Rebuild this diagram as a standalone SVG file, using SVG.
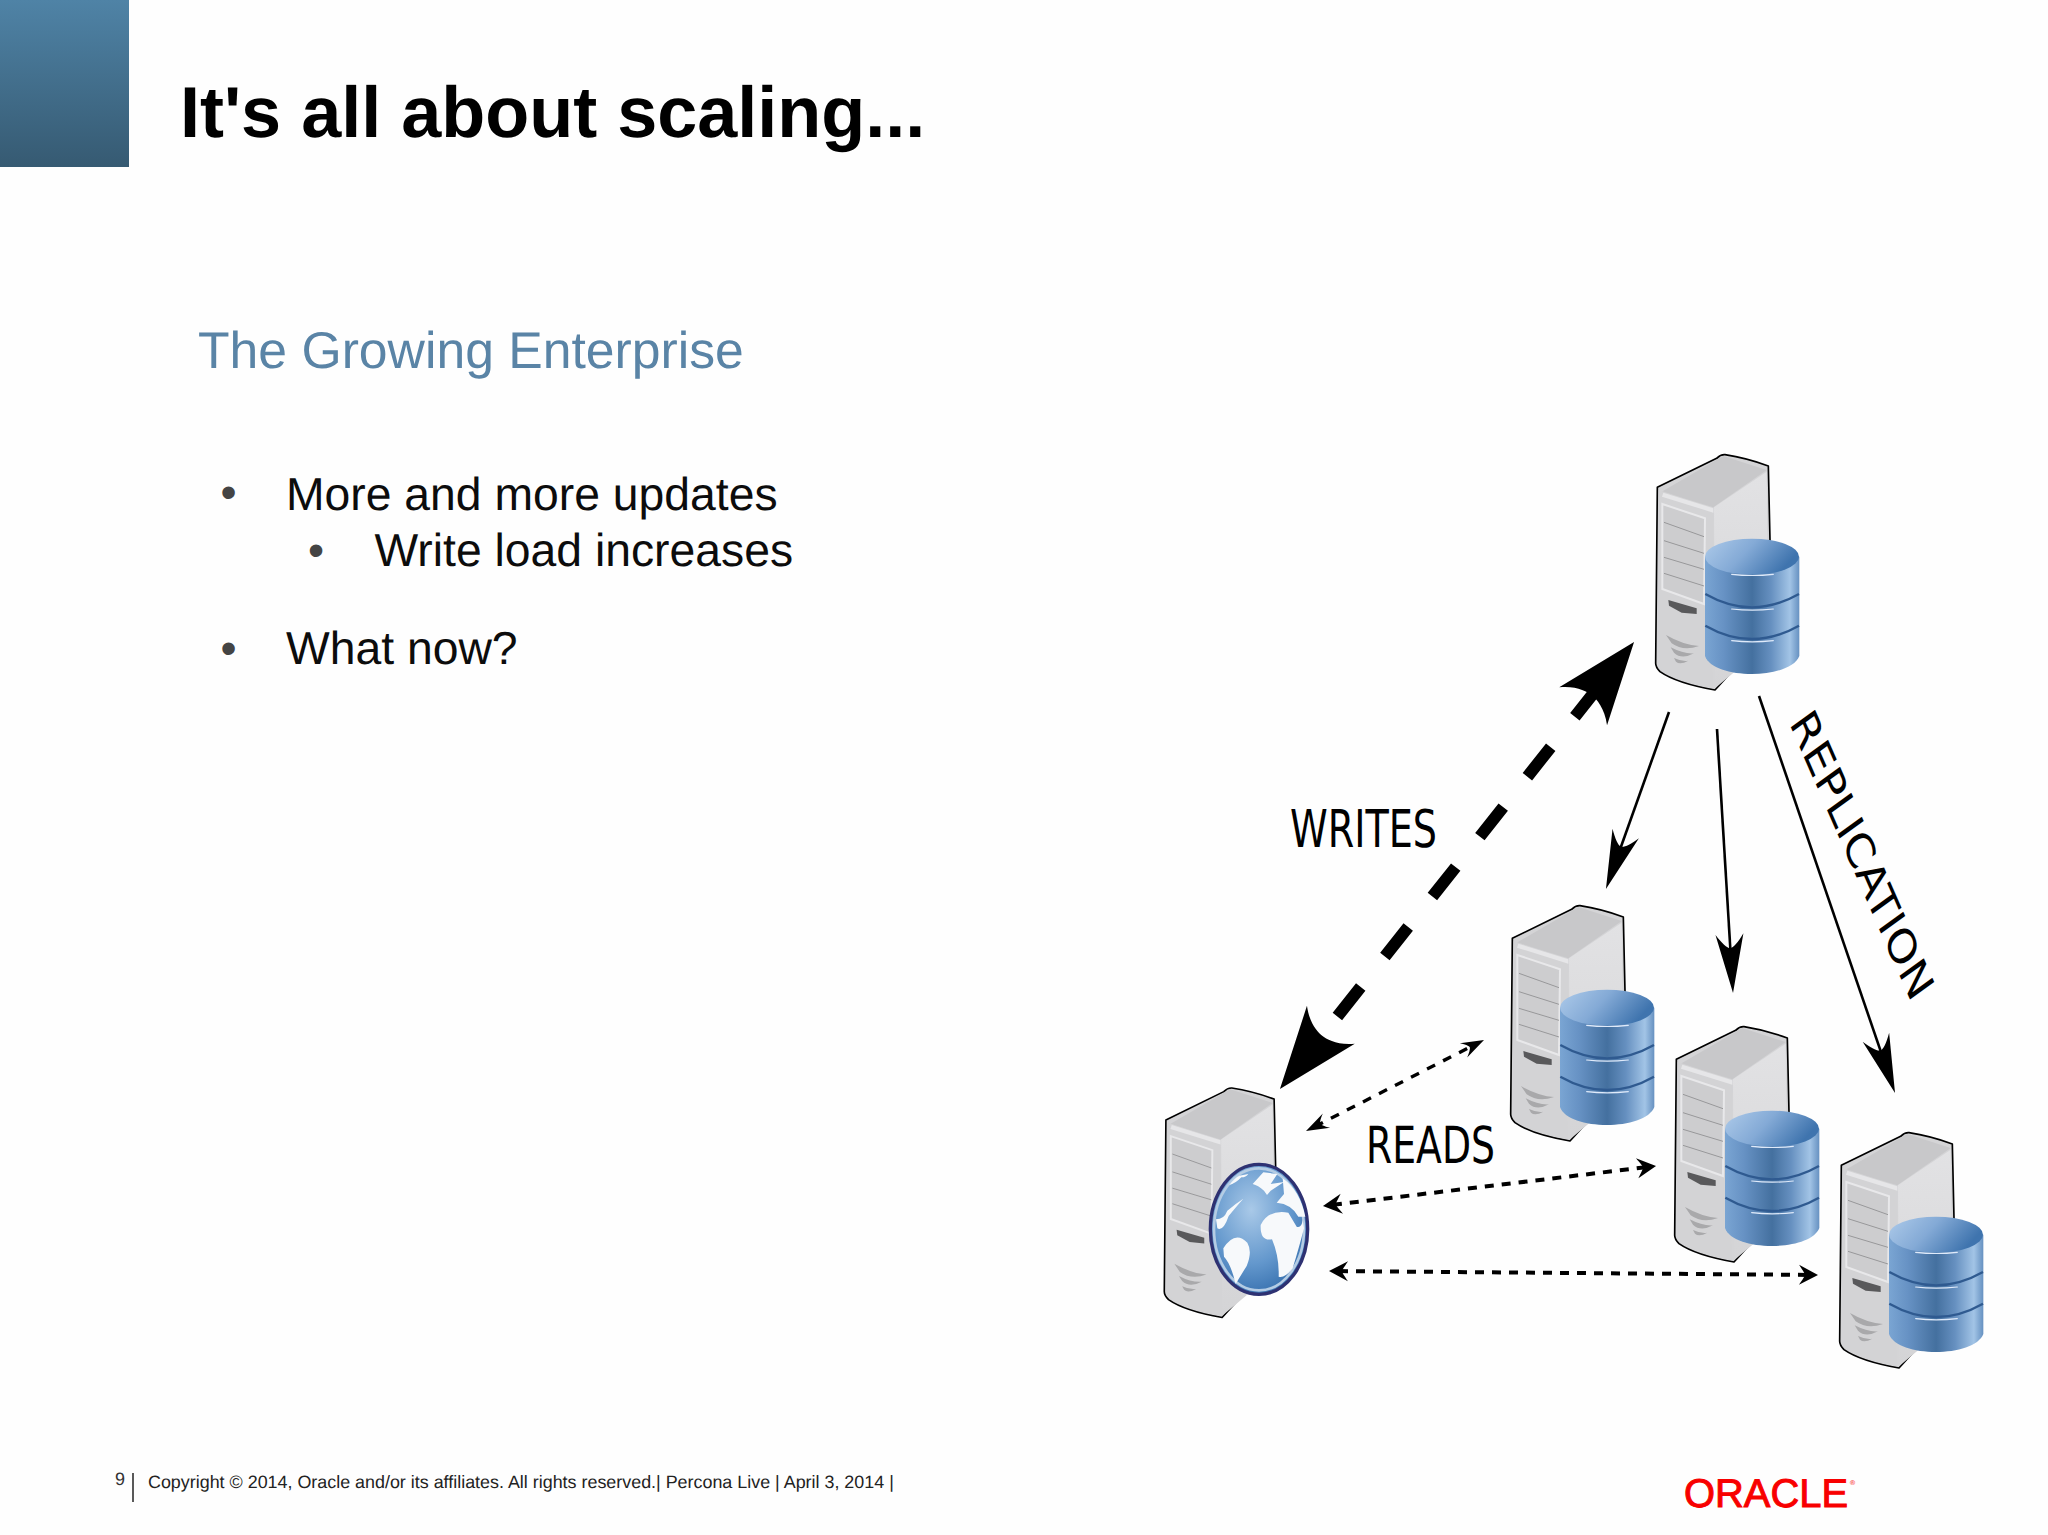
<svg xmlns="http://www.w3.org/2000/svg" width="2048" height="1535" viewBox="0 0 2048 1535">
<style>
text{text-rendering:geometricPrecision}
.s{font-family:"Liberation Sans",Arial,sans-serif}
.d{font-family:"DejaVu Sans",sans-serif;fill:#000}
.body{font-size:46.3px;fill:#0c0c0c}
.bul{font-size:46px;fill:#444}
.big{fill:none;stroke:#000;stroke-width:12;stroke-dasharray:37.6 38.9;stroke-dashoffset:44;marker-start:url(#headBig);marker-end:url(#headBig)}
.thin{fill:none;stroke:#000;stroke-width:2.6;marker-end:url(#headThin)}
.dot{fill:none;stroke:#000;stroke-width:4;stroke-dasharray:9 8;marker-start:url(#headDot);marker-end:url(#headDot)}
.dot1{fill:none;stroke:#000;stroke-width:3.4;stroke-dasharray:9 9;marker-start:url(#headDot1);marker-end:url(#headDot1)}
.slot{stroke:#98989a;stroke-width:3;fill:none}
.sep{fill:none;stroke:#2f5a90;stroke-width:7}
.hl{fill:none;stroke:#dfeafa;stroke-width:3.5;stroke-linecap:round}
.land{fill:#f7f9fb}
</style>
<defs>
<linearGradient id="corner" x1="0" y1="0" x2="0" y2="1"><stop offset="0" stop-color="#4f83a6"/><stop offset="1" stop-color="#365a72"/></linearGradient>
<linearGradient id="dbBody" x1="0" y1="0" x2="1" y2="0"><stop offset="0" stop-color="#7aa5d3"/><stop offset=".2" stop-color="#6792c4"/><stop offset=".5" stop-color="#44709f"/><stop offset=".7" stop-color="#6690c0"/><stop offset=".9" stop-color="#a2c4e6"/><stop offset="1" stop-color="#6691c1"/></linearGradient>
<linearGradient id="dbTop" x1="0" y1="0" x2="1" y2=".35"><stop offset="0" stop-color="#aecbea"/><stop offset=".5" stop-color="#84aad6"/><stop offset="1" stop-color="#3f74ae"/></linearGradient>
<linearGradient id="side" x1="0" y1="0" x2="0" y2="1"><stop offset="0" stop-color="#e2e2e4"/><stop offset="1" stop-color="#d4d4d6"/></linearGradient>
<radialGradient id="sea" cx=".42" cy=".35" r=".75"><stop offset="0" stop-color="#a9c9e8"/><stop offset=".55" stop-color="#6498cd"/><stop offset="1" stop-color="#2a65a6"/></radialGradient>
<marker id="headBig" viewBox="-85 -32 86 64" markerUnits="userSpaceOnUse" markerWidth="86" markerHeight="64" refX="-60" refY="0" orient="auto-start-reverse"><path d="M0,0 L-82,-30.5 C-70,-18 -68,-6 -68,0 C-68,6 -70,18 -82,30.5 Z"/></marker>
<marker id="headThin" viewBox="-62 -16 63 32" markerUnits="userSpaceOnUse" markerWidth="63" markerHeight="32" refX="-30" refY="0" orient="auto"><path d="M0,0 L-59,-14 C-50,-8 -45,-3 -45,0 C-45,3 -50,8 -59,14 Z"/></marker>
<marker id="headDot" viewBox="-21 -11 22 22" markerUnits="userSpaceOnUse" markerWidth="22" markerHeight="22" refX="-10" refY="0" orient="auto-start-reverse"><path d="M0,0 L-19,-10 C-15,-4 -13,-1 -13,0 C-13,1 -15,4 -19,10 Z"/></marker>
<marker id="headDot1" viewBox="-25 -10 26 20" markerUnits="userSpaceOnUse" markerWidth="26" markerHeight="20" refX="-10" refY="0" orient="auto-start-reverse"><path d="M0,0 L-23,-8 C-18,-4 -16,-1 -16,0 C-16,1 -18,4 -23,8 Z"/></marker>
<g id="srv" transform="scale(.33333)">
<path d="M172,172 L350,85 Q362,73 375,74 Q440,84 505,108 L510,330 L510,640 L395,725 L345,780 Q230,760 180,725 Q167,712 167,700 Z" fill="#d4d4d6" stroke="#000" stroke-width="5" stroke-linejoin="round"/>
<path d="M185,185 L370,78 L500,120 L340,232 Z" fill="#c8c8ca"/>
<path d="M342,232 L500,125 L506,640 L345,775 Z" fill="url(#side)"/>
<path d="M176,180 L340,235 L338,775 Q230,755 176,715 Z" fill="#d3d3d5"/>
<path d="M190,188 L340,235 L340,248 L186,200 Z" fill="#e6e6e8"/>
<path d="M187,222 L315,265 L312,522 L187,477 Z" fill="#cdcdcf" stroke="#e8e8ea" stroke-width="6"/>
<path class="slot" d="M192,277 L312,320 M192,332 L312,370 M192,382 L312,418 M192,430 L312,468"/>
<path d="M205,510 L290,535 L290,552 L245,548 L207,527 Z" fill="#59595b"/>
<path d="M198,615 Q250,645 297,648 Q250,665 215,640 Z M212,652 Q250,672 282,670 Q245,690 222,668 Z M222,684 Q245,695 265,692 Q240,706 228,695 Z" fill="#a9a9ab"/>
</g>
<g id="db" transform="scale(.33333)">
<path d="M315,380 L315,678 C340,750 570,750 598,678 L598,380 Z" fill="url(#dbBody)"/>
<ellipse cx="456" cy="380" rx="141" ry="54" fill="url(#dbTop)"/>
<path class="hl" d="M395,433 Q456,440 520,433"/>
<path class="sep" d="M316,492 Q456,572 597,492"/>
<path class="hl" d="M395,537 Q456,544 520,537"/>
<path class="sep" d="M316,587 Q456,667 597,587"/>
<path class="hl" d="M395,632 Q456,639 520,632"/>
</g>
</defs>
<rect width="2048" height="1535" fill="#fefefe"/>
<rect id="corner-block" width="129" height="167" fill="url(#corner)"/>
<g id="title"><text class="s" x="180" y="137" font-size="72" font-weight="700" fill="#000">It's all about scaling...</text></g>
<g id="content">
<text class="s" x="198" y="368" font-size="51.7" fill="#5a84a6">The Growing Enterprise</text>
<text class="s bul" x="220.5" y="508">•</text>
<text class="s body" x="286" y="510">More and more updates</text>
<text class="s bul" x="308" y="566">•</text>
<text class="s body" x="374.5" y="566">Write load increases</text>
<text class="s bul" x="220.5" y="664">•</text>
<text class="s body" x="286" y="664">What now?</text>
</g>
<g id="connectors">
<path class="big" d="M1317.2,1042 L1596.8,689"/>
<path class="thin" d="M1669,712 L1616,860.8"/>
<path class="thin" d="M1717,729 L1731.2,963"/>
<path class="thin" d="M1759,696 L1885.3,1064.6"/>
<path class="dot1" d="M1314.9,1126.5 L1475.1,1044.5"/>
<path class="dot" d="M1332.9,1204.8 L1646.1,1167.2"/>
<path class="dot" d="M1339,1271.1 L1808,1274.9"/>
</g>
<g id="server-master"><use href="#srv" x="1600" y="430"/><use href="#db" x="1600" y="430"/></g>
<g id="server-replica-1"><use href="#srv" x="1455" y="881"/><use href="#db" x="1455" y="881"/></g>
<g id="server-replica-2"><use href="#srv" x="1619" y="1002"/><use href="#db" x="1620" y="1002"/></g>
<g id="server-replica-3"><use href="#srv" x="1784" y="1108"/><use href="#db" x="1784" y="1108"/></g>
<g id="server-web">
<use href="#srv" transform="translate(1110,1064) scale(.975)"/>
<g transform="translate(1140,1060) scale(.33333)">
<ellipse cx="357" cy="508" rx="146" ry="195" fill="url(#sea)" stroke="#2e3172" stroke-width="10"/>
<ellipse cx="357" cy="508" rx="135" ry="183" fill="none" stroke="#b4cce4" stroke-width="8"/>
<path class="land" d="M362,495 Q385,448 445,458 L470,500 Q485,505 488,480 L492,505 Q478,560 458,625 Q435,655 416,650 Q418,590 396,538 Q360,545 362,495 Z"/>
<path class="land" d="M250,565 Q285,510 322,548 Q338,575 320,618 Q300,650 287,672 Q272,610 252,590 Z"/>
<path class="land" d="M228,478 Q252,478 262,452 Q285,432 310,416 Q292,436 266,468 Q250,515 232,505 Z"/>
<path class="land" d="M268,375 Q285,352 298,347 L325,342 Q318,352 304,352 Q285,372 268,375 Z"/>
<path class="land" d="M338,372 L370,337 L412,342 L392,372 L432,366 L392,392 L381,405 L372,392 Q354,376 338,372 Z"/>
<path class="land" d="M428,355 Q480,392 496,470 L475,470 Q455,432 410,428 L432,402 Z"/>
</g>
</g>
<g id="labels">
<text class="d" x="1290" y="847" font-size="52" textLength="147" lengthAdjust="spacingAndGlyphs">WRITES</text>
<text class="d" x="1366" y="1163" font-size="51" textLength="129" lengthAdjust="spacingAndGlyphs">READS</text>
<text class="d" font-size="40" transform="matrix(.47 1.075 -.83 .6 1789 723)">REPLICATION</text>
</g>
<g id="footer">
<text class="s" x="115" y="1485" font-size="18" fill="#333">9</text>
<line x1="133" y1="1473" x2="133" y2="1502" stroke="#222" stroke-width="1.5"/>
<text class="s" x="148" y="1488" font-size="17.9" fill="#222">Copyright © 2014, Oracle and/or its affiliates. All rights reserved.| Percona Live | April 3, 2014 |</text>
<text class="s" x="1684" y="1507" font-size="40" fill="#f80000" stroke="#f80000" stroke-width="1" textLength="164" lengthAdjust="spacingAndGlyphs">ORACLE</text>
<text class="s" x="1850" y="1485" font-size="7" fill="#f80000">®</text>
</g>
</svg>
